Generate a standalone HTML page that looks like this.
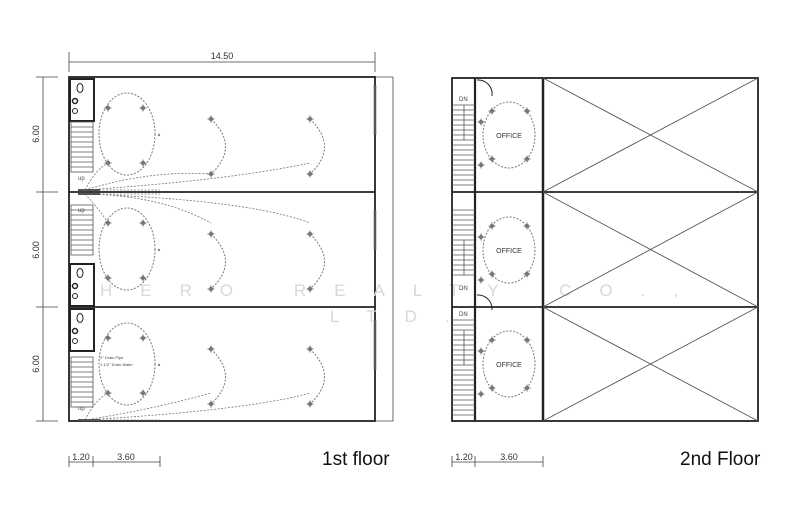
<!DOCTYPE html>
<html><head><style>html,body{margin:0;padding:0;background:#fff}svg{display:block}</style></head>
<body>
<svg width="800" height="524" viewBox="0 0 800 524" xmlns="http://www.w3.org/2000/svg" font-family="Liberation Sans, sans-serif">
<defs>
<g id="fx"><circle r="2.2" fill="#777"/><path d="M-3.5 0H3.5M0 -3.5V3.5" stroke="#777" stroke-width="1"/></g>
<g id="stair" stroke="#555" stroke-width="0.8" fill="none">
<rect x="0" y="0" width="22" height="50"/>
<path d="M0 5H22M0 10H22M0 15H22M0 20H22M0 25H22M0 30H22M0 35H22M0 40H22M0 45H22"/>
</g>
<g id="toilet" fill="none" stroke="#222">
<rect x="0" y="0" width="24" height="42" stroke-width="2"/>
<ellipse cx="10" cy="9" rx="3" ry="4.5" stroke-width="1"/>
<circle cx="5" cy="22" r="2.5" stroke-width="1.5"/>
<circle cx="5" cy="32" r="2.5" stroke-width="1"/>
</g>
<g id="row1">
<ellipse cx="127" cy="57" rx="28" ry="41" fill="none" stroke="#777" stroke-dasharray="2 1.5"/>
<path d="M211 42 Q240 70 211 97" fill="none" stroke="#777" stroke-dasharray="2 1.5"/>
<path d="M310 42 Q339 70 310 97" fill="none" stroke="#777" stroke-dasharray="2 1.5"/>
<use href="#fx" x="108" y="31"/><use href="#fx" x="143" y="31"/><use href="#fx" x="108" y="86"/><use href="#fx" x="143" y="86"/>
<use href="#fx" x="211" y="42"/><use href="#fx" x="211" y="97"/><use href="#fx" x="310" y="42"/><use href="#fx" x="310" y="97"/>
<circle cx="159" cy="58" r="1.2" fill="#888"/>
</g>
<g id="office" fill="none">
<ellipse cx="509" cy="0" rx="26" ry="33" stroke="#777" stroke-dasharray="2 1.5"/>
<use href="#fx" x="492" y="-24"/><use href="#fx" x="527" y="-24"/><use href="#fx" x="492" y="24"/><use href="#fx" x="527" y="24"/>
<use href="#fx" x="481" y="-13"/><use href="#fx" x="481" y="30"/>
<text x="509" y="3" font-size="7" fill="#333" text-anchor="middle">OFFICE</text>
</g>
</defs>

<g stroke="#444" stroke-width="0.8" fill="none">
<path d="M69 52V72M375 52V72M69 62H375"/>
<path d="M36 77H58M36 192H58M36 307H58M36 421H58M43 77V421"/>
<path d="M393 77V421M375 77H393M375 421H393"/>
<path d="M69 456V467M93 456V467M160 456V467M69 462H160"/>
<path d="M452 456V467M475 456V467M543 456V467M452 462H543"/>
</g>
<text x="222" y="59" font-size="9" fill="#333" text-anchor="middle">14.50</text>
<g font-size="9" fill="#333" text-anchor="middle">
<text transform="translate(39,134) rotate(-90)">6.00</text>
<text transform="translate(39,250) rotate(-90)">6.00</text>
<text transform="translate(39,364) rotate(-90)">6.00</text>
<text x="81" y="460">1.20</text><text x="126" y="460">3.60</text>
<text x="464" y="460">1.20</text><text x="509" y="460">3.60</text>
</g>
<text x="322" y="465" font-size="19" fill="#111">1st floor</text>
<text x="680" y="465" font-size="19" fill="#111">2nd Floor</text>

<g fill="none" stroke="#222">
<rect x="69" y="77" width="306" height="344" stroke-width="1.8"/>
<path d="M69 192H375M69 307H375" stroke-width="1.8"/>
<path d="M375 85V135M375 210V250M375 320V370" stroke="#555" stroke-width="2.5"/>
</g>
<use href="#toilet" x="70" y="79"/>
<use href="#toilet" x="70" y="264"/>
<use href="#toilet" x="70" y="309"/>
<use href="#stair" x="71" y="122"/>
<use href="#stair" x="71" y="205"/>
<use href="#stair" x="71" y="357"/>
<g font-size="6" fill="#555"><text x="78" y="180">up</text><text x="78" y="212">up</text><text x="78" y="410">up</text></g>
<use href="#row1" x="0" y="77"/>
<use href="#row1" x="0" y="192"/>
<use href="#row1" x="0" y="307"/>
<g fill="none" stroke="#777" stroke-dasharray="2 1.5" stroke-width="0.8">
<path d="M85 190Q95 170 108 163M85 190Q150 170 211 174M85 190Q230 180 310 163M85 190H160"/>
<path d="M85 194Q100 210 108 223M85 194Q160 195 211 223M85 194Q250 200 310 223M85 194H160"/>
<path d="M85 420Q95 400 108 393M85 420Q150 410 211 393M85 420Q250 410 310 393M85 420H160"/>
</g>
<g stroke="#555" stroke-width="2"><path d="M78 190H100M78 194H100M78 420H100"/></g>
<g font-size="4" fill="#444"><text x="100" y="359">2" Drain Pipe</text><text x="100" y="366">1-1/2" Drain Water</text></g>
<text x="100" y="296" font-size="17" fill="#d8d8d8" letter-spacing="28">HERO REALTY CO.,</text>
<text x="330" y="322" font-size="17" fill="#d8d8d8" letter-spacing="28">LTD.</text>

<g fill="none" stroke="#222">
<rect x="452" y="78" width="306" height="343" stroke-width="1.8"/>
<path d="M452 192H758M452 307H758" stroke-width="1.8"/>
<path d="M475 78V421" stroke-width="2.2"/>
<path d="M543 78V421" stroke-width="2.5"/>
<g stroke="#555" stroke-width="0.9">
<path d="M543 78L758 192M758 78L543 192M543 192L758 307M758 192L543 307M543 307L758 421M758 307L543 421"/>
</g>
<path d="M477 80A14 14 0 0 1 492 96" stroke-width="1"/>
<path d="M477 295A14 14 0 0 1 492 310" stroke-width="1"/>
</g>
<g stroke="#555" stroke-width="0.8" fill="none">
<path d="M452 105H475M452 110H475M452 115H475M452 120H475M452 125H475M452 130H475M452 135H475M452 140H475M452 145H475M452 150H475M452 155H475M452 160H475M452 165H475M452 170H475M452 175H475M452 180H475M452 185H475"/>
<path d="M452 210H475M452 215H475M452 220H475M452 225H475M452 230H475M452 235H475M452 240H475M452 245H475M452 250H475M452 255H475M452 260H475M452 265H475M452 270H475M452 275H475"/>
<path d="M452 320H475M452 325H475M452 330H475M452 335H475M452 340H475M452 345H475M452 350H475M452 355H475M452 360H475M452 365H475M452 370H475M452 375H475M452 380H475M452 385H475M452 390H475M452 395H475M452 400H475M452 405H475M452 410H475M452 415H475"/>
<path d="M464 105V140M464 240V275M464 330V365"/>
</g>
<g font-size="6" fill="#444"><text x="459" y="101">DN</text><text x="459" y="290">DN</text><text x="459" y="316">DN</text></g>
<use href="#office" x="0" y="135"/>
<use href="#office" x="0" y="250"/>
<use href="#office" x="0" y="364"/>
</svg>
</body></html>
